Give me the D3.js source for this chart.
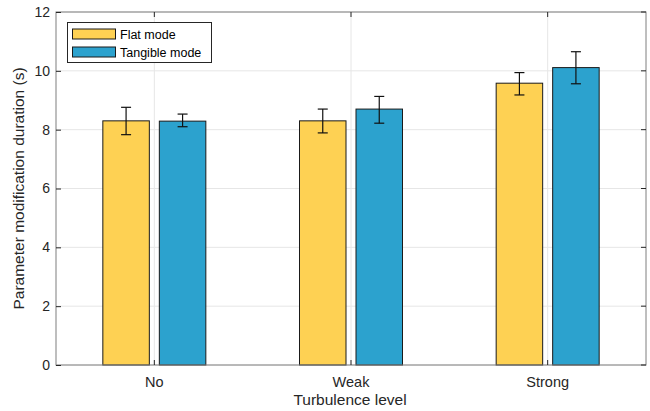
<!DOCTYPE html>
<html><head><meta charset="utf-8">
<script src="https://cdn.jsdelivr.net/npm/d3@7"></script>
<style>body{margin:0;background:#fff;}svg{display:block;font-family:"Liberation Sans",Arial,sans-serif;}</style>
</head><body><svg id="c" width="650" height="411"></svg>
<script>
const categories = ["No", "Weak", "Strong"];
const seriesNames = ["Flat mode", "Tangible mode"];
const flatMean = [8.30, 8.30, 9.58];
const flatErrLow = [7.83, 7.89, 9.18];
const flatErrHigh = [8.76, 8.70, 9.94];
const tangMean = [8.29, 8.70, 10.11];
const tangErrLow = [8.10, 8.22, 9.56];
const tangErrHigh = [8.53, 9.13, 10.65];
const yTicks = [0, 2, 4, 6, 8, 10, 12];
const colors = ["#FED153", "#2CA2CE"];

const series = [
  {name: seriesNames[0], mean: flatMean, lo: flatErrLow, hi: flatErrHigh},
  {name: seriesNames[1], mean: tangMean, lo: tangErrLow, hi: tangErrHigh}
];

const svg = d3.select("#c");
const L = 56, R = 646, T = 12, B = 365;
const x = d3.scaleBand().domain(categories).range([L, R]).paddingInner(0).paddingOuter(0);
const y = d3.scaleLinear().domain([0, 12]).range([B, T]);
const barW = 46.5, gap = 10;
const off = [-(gap/2 + barW/2), gap/2 + barW/2];
const cx = c => x(c) + x.bandwidth()/2;

// grid
const g = svg.append("g");
g.selectAll(".hg").data(yTicks).join("line")
  .attr("x1", L).attr("x2", R).attr("y1", d => y(d)).attr("y2", d => y(d))
  .attr("stroke", "#e6e6e6").attr("stroke-width", 1);
g.selectAll(".vg").data(categories).join("line")
  .attr("x1", d => cx(d)).attr("x2", d => cx(d)).attr("y1", T).attr("y2", B)
  .attr("stroke", "#e6e6e6").attr("stroke-width", 1);

// bars
series.forEach((s, i) => {
  const gs = svg.append("g");
  gs.selectAll("rect").data(categories).join("rect")
    .attr("x", (d) => cx(d) + off[i] - barW/2)
    .attr("width", barW)
    .attr("y", (d, j) => y(s.mean[j]))
    .attr("height", (d, j) => B - y(s.mean[j]))
    .attr("fill", colors[i]).attr("stroke", "#1a1a1a").attr("stroke-width", 1);
  const eb = gs.selectAll(".eb").data(categories).join("g");
  eb.append("line").attr("x1", d => cx(d) + off[i]).attr("x2", d => cx(d) + off[i])
    .attr("y1", (d, j) => y(s.lo[j])).attr("y2", (d, j) => y(s.hi[j]))
    .attr("stroke", "#111").attr("stroke-width", 1.2);
  [s.lo, s.hi].forEach(arr => {
    eb.append("line").attr("x1", d => cx(d) + off[i] - 5).attr("x2", d => cx(d) + off[i] + 5)
      .attr("y1", (d, j) => y(arr[j])).attr("y2", (d, j) => y(arr[j]))
      .attr("stroke", "#111").attr("stroke-width", 1.2);
  });
});

// axes box
svg.append("rect").attr("x", L).attr("y", T).attr("width", R - L).attr("height", B - T)
  .attr("fill", "none").attr("stroke", "#7f7f7f").attr("stroke-width", 1);

const yAxis = d3.axisLeft(y).tickValues(yTicks).tickSize(5).tickPadding(5);
const ya = svg.append("g").attr("transform", `translate(${L},0)`).call(yAxis);
ya.select(".domain").remove();
ya.selectAll("line").attr("x1", 0).attr("x2", 5).attr("stroke", "#262626");
ya.selectAll("text").attr("x", -6).attr("font-size", 14).attr("fill", "#262626").attr("font-family", "Liberation Sans, Arial, sans-serif");
// right ticks
svg.append("g").selectAll("line").data(yTicks).join("line")
  .attr("x1", R).attr("x2", R - 5).attr("y1", d => y(d)).attr("y2", d => y(d)).attr("stroke", "#262626");

const xAxis = d3.axisBottom(x).tickSize(5).tickPadding(7);
const xa = svg.append("g").attr("transform", `translate(0,${B})`).call(xAxis);
xa.select(".domain").remove();
xa.selectAll("line").attr("y1", 0).attr("y2", -5).attr("stroke", "#262626");
xa.selectAll("text").attr("font-size", 14.5).attr("fill", "#262626").attr("font-family", "Liberation Sans, Arial, sans-serif").attr("y", 22).attr("dy", 0);
svg.append("g").selectAll("line").data(categories).join("line")
  .attr("x1", d => cx(d)).attr("x2", d => cx(d)).attr("y1", T).attr("y2", T + 5).attr("stroke", "#262626");

// axis labels
svg.append("text").attr("x", (L + R)/2 - 1).attr("y", 405).attr("text-anchor", "middle")
  .attr("font-size", 15.5).attr("fill", "#262626").text("Turbulence level");
svg.append("text").attr("transform", `translate(24,${(T + B)/2}) rotate(-90)`).attr("text-anchor", "middle")
  .attr("font-size", 15.5).attr("fill", "#262626").text("Parameter modification duration (s)");

// legend
const lg = svg.append("g");
lg.append("rect").attr("x", 67.5).attr("y", 22.5).attr("width", 144).attr("height", 40)
  .attr("fill", "#fff").attr("stroke", "#262626").attr("stroke-width", 1);
seriesNames.forEach((n, i) => {
  const yy = 29 + i * 18;
  lg.append("rect").attr("x", 72.5).attr("y", yy).attr("width", 43).attr("height", 10)
    .attr("fill", colors[i]).attr("stroke", "#1a1a1a").attr("stroke-width", 1);
  lg.append("text").attr("x", 120).attr("y", yy + 9.5).attr("font-size", 12.5).attr("fill", "#000")
    .text(n);
});
</script></body></html>
